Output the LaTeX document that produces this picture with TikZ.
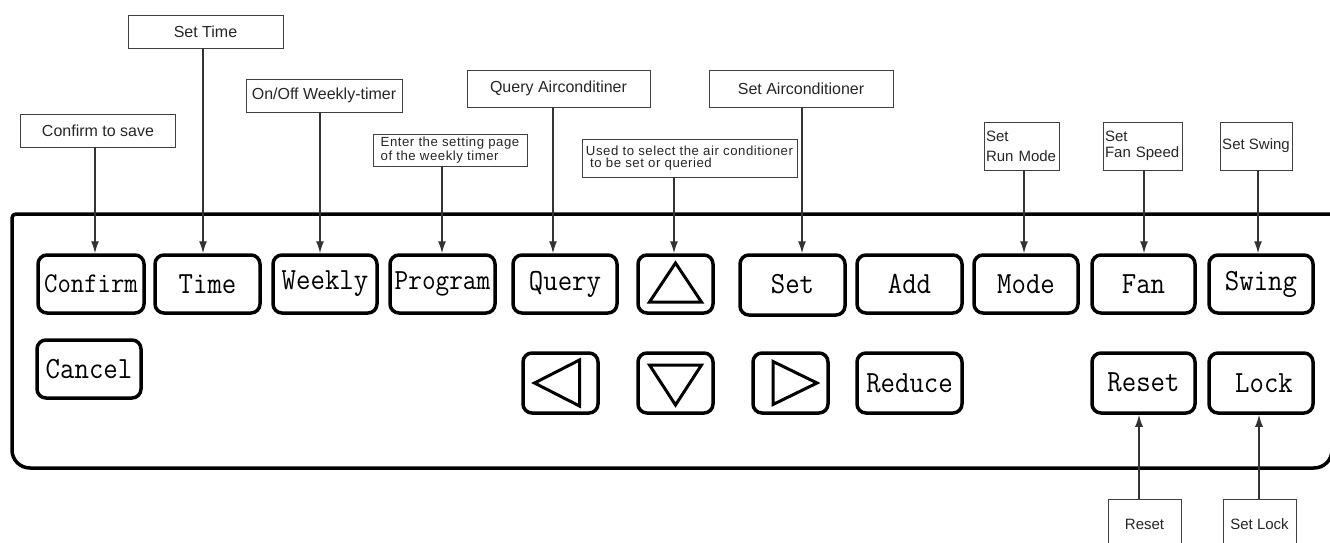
\documentclass[tikz,border=0pt]{standalone}
\usepackage{fontspec}
\usepackage{graphicx}
\setmainfont{Liberation Sans}
\newfontfamily\lblsp[LetterSpace=4]{Liberation Sans}
\usetikzlibrary{arrows.meta}
\newcommand{\bt}[1]{\scalebox{1}[1.1]{#1}}
\begin{document}
\begin{tikzpicture}[x=1pt,y=-1pt,
  btn/.style={draw=black, line width=3.5pt, rounded corners=9pt, minimum width=#1, minimum height=58pt, inner sep=0pt, font=\fontsize{28}{28}\selectfont\ttfamily},
  btn/.default=105pt,
  lab/.style={draw=black!75, line width=0.8pt, inner sep=2pt, text=black!85, font=\fontsize{16}{16}\selectfont},
  labs/.style={lab, align=left, font=\fontsize{15}{16}\selectfont},
  labt/.style={lab, align=left, font=\fontsize{13.2}{12}\selectfont\lblsp},
  conn/.style={draw=black!80, line width=1.3pt, -{Latex[length=12pt,width=8pt]}},
  panel/.style={draw=black, line width=3.5pt},
  tri/.style={draw=black, line width=3pt, line join=miter}]
\useasboundingbox (0,0) rectangle (1330,543);
\clip (0,0) rectangle (1330,543);

% panel
\draw[panel, rounded corners=4pt] (1345,214) -- (12,214) [rounded corners=18pt] -- (12,468) -- (1332,468) -- (1332,200);

% buttons row 1
\node[btn=106pt, font=\fontsize{26}{26}\selectfont\ttfamily] (bconf) at (91,284) {\bt{Confirm}};
\node[btn] (btime) at (207.5,284) {\bt{Time}};
\node[btn=104pt] (bweek) at (325,284) {\bt{Weekly}};
\node[btn, font=\fontsize{26.5}{26}\selectfont\ttfamily] (bprog) at (442.5,284) {\bt{Program}};
\node[btn=104pt] (bquery) at (565,284) {\bt{Query}};
\node[btn=75pt] (bup) at (675.5,284) {};
\node[btn, minimum height=60pt] (bset) at (792.5,285) {\raisebox{3pt}{\bt{Set}}};
\node[btn] (badd) at (909.5,284) {\raisebox{-3pt}{\bt{Add}}};
\node[btn=104pt] (bmode) at (1026,284) {\bt{Mode}};
\node[btn=103pt] (bfan) at (1143.5,284) {\bt{Fan}};
\node[btn=104pt] (bswing) at (1261,284) {\bt{Swing}};
% row 2
\node[btn=104pt] (bcancel) at (89,369) {\bt{Cancel}};
\node[btn=75pt, minimum height=60pt] (bleft) at (560.5,383) {};
\node[btn=75pt, minimum height=60pt] (bdown) at (675.5,383) {};
\node[btn=75pt, minimum height=60pt] (bright) at (790.5,383) {};
\node[btn, minimum height=60pt] (bred) at (909.5,383) {\bt{Reduce}};
\node[btn=103pt, minimum height=60pt] (breset) at (1143.5,383) {\raisebox{2pt}{\bt{Reset}}};
\node[btn=104pt, minimum height=60pt] (block) at (1261,383) {\raisebox{-4pt}{\hspace{6pt}\bt{Lock}}};

% triangles
\draw[tri] ([shift={(0,-21)}]bup.center) -- ([shift={(-26,18)}]bup.center) -- ([shift={(26,18)}]bup.center) -- cycle;
\draw[tri] ([shift={(-26,0)}]bleft.center) -- ([shift={(19,-23)}]bleft.center) -- ([shift={(19,23)}]bleft.center) -- cycle;
\draw[tri] ([shift={(0,22)}]bdown.center) -- ([shift={(-26,-18)}]bdown.center) -- ([shift={(26,-18)}]bdown.center) -- cycle;
\draw[tri] ([shift={(26.5,0)}]bright.center) -- ([shift={(-17.5,-21.5)}]bright.center) -- ([shift={(-17.5,21.5)}]bright.center) -- cycle;

% labels
\node[lab, minimum width=155pt, minimum height=33pt] (lconf) at (98,130.5) {Confirm to save};
\node[lab, minimum width=155pt, minimum height=33pt] (ltime) at (205.5,31.5) {Set Time};
\node[lab, minimum width=156pt, minimum height=33pt] (lweek) at (324,95.5) {On/Off Weekly-timer};
\node[labt, minimum width=154pt, minimum height=32pt] (lprog) at (450,150) {Enter the setting page\\of the weekly timer};
\node[lab, minimum width=183pt, minimum height=37pt] (lquery) at (558.5,88.5) {Query Airconditiner};
\node[lab, minimum width=184pt, minimum height=37pt] (lset) at (801,88.5) {Set Airconditioner};
\node[labt, minimum width=215pt, minimum height=38pt] (lup) at (689.5,158) {Used to select the air conditioner\\\ to be set or queried};
\node[labs, minimum width=75pt, minimum height=48pt, text width=71pt, font=\fontsize{15}{20}\selectfont] (lmode) at (1021.5,146) {Set\\Run Mode};
\node[labs, minimum width=79pt, minimum height=48pt, text width=75pt] (lfan) at (1142.5,146) {Set\\Fan Speed};
\node[labs, minimum width=72pt, minimum height=48pt] (lswing) at (1256,146) {Set Swing};
\node[labs, minimum width=73pt, minimum height=50pt] (lreset) at (1144.5,524) {Reset};
\node[labs, minimum width=73pt, minimum height=50pt] (llock) at (1259.5,524) {Set Lock};

% connector x positions
\coordinate (xconf) at (95,0);
\coordinate (xtime) at (203,0);
\coordinate (xweek) at (320,0);
\coordinate (xprog) at (442,0);
\coordinate (xquery) at (553,0);
\coordinate (xup) at (674,0);
\coordinate (xset) at (802,0);
\coordinate (xmode) at (1024,0);
\coordinate (xfan) at (1144,0);
\coordinate (xswing) at (1258,0);
\coordinate (xreset) at (1139,0);
\coordinate (xlock) at (1259,0);

\draw[conn] (xconf |- lconf.south) -- (xconf |- bconf.north);
\draw[conn] (xtime |- ltime.south) -- (xtime |- btime.north);
\draw[conn] (xweek |- lweek.south) -- (xweek |- bweek.north);
\draw[conn] (xprog |- lprog.south) -- (xprog |- bprog.north);
\draw[conn] (xquery |- lquery.south) -- (xquery |- bquery.north);
\draw[conn] (xup |- lup.south) -- (xup |- bup.north);
\draw[conn] (xset |- lset.south) -- (xset |- bset.north);
\draw[conn] (xmode |- lmode.south) -- (xmode |- bmode.north);
\draw[conn] (xfan |- lfan.south) -- (xfan |- bfan.north);
\draw[conn] (xswing |- lswing.south) -- (xswing |- bswing.north);
\draw[conn] (xreset |- lreset.north) -- (xreset |- breset.south);
\draw[conn] (xlock |- llock.north) -- (xlock |- block.south);
\end{tikzpicture}
\end{document}
